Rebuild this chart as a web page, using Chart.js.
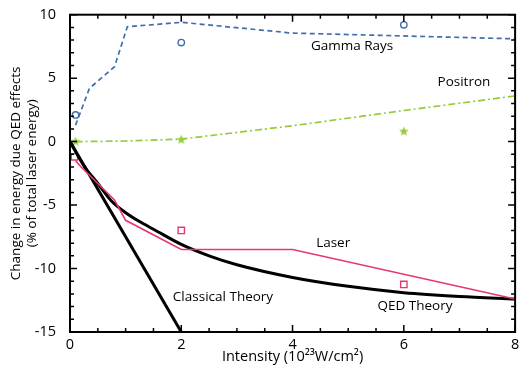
<!DOCTYPE html>
<html>
<head>
<meta charset="utf-8">
<script src="https://cdn.jsdelivr.net/npm/chart.js@4.4.1/dist/chart.umd.min.js"></script>
<style>
  html, body { margin: 0; padding: 0; background: #fff; overflow: hidden; }
  #wrap { width: 521px; height: 372px; }
</style>
</head>
<body>
<div id="wrap"><canvas id="chart" width="521" height="372"></canvas></div>
<script>
// axis ticks
const xTicks = [0, 2, 4, 6, 8];
const yTicks = [-15, -10, -5, 0, 5, 10];

// simulation curves (x = intensity in 10^23 W/cm^2, y = % of laser energy)
const gammaX = [0.1, 0.35, 0.8, 1.03, 2, 4, 8];
const gammaY = [1.3, 4.2, 5.9, 9.05, 9.4, 8.55, 8.1];
const positronX = [0.1, 1, 2, 4, 6, 8];
const positronY = [0, 0.05, 0.2, 1.25, 2.45, 3.6];
const laserX = [0.1, 0.2, 0.8, 1, 2, 4, 8];
const laserY = [-1.5, -2.0, -4.6, -6.2, -8.5, -8.5, -12.4];

// markers
const gammaPtsX = [0.1, 2, 6];
const gammaPtsY = [2.1, 7.8, 9.2];
const positronPtsX = [0.1, 2, 6];
const positronPtsY = [0, 0.15, 0.8];
const laserPtsX = [0.08, 2, 6];
const laserPtsY = [-1.2, -7.0, -11.25];

// theory
const qedX = [0, 0.25, 0.5, 0.75, 1, 1.25, 1.5, 2, 2.5, 3, 4, 5, 6, 7, 8];
const qedY = [0, -1.9, -3.3, -4.7, -5.6, -6.3, -6.9, -8.1, -9.0, -9.7, -10.7, -11.4, -11.9, -12.2, -12.4];
const classicalX = [0, 2];
const classicalY = [0, -15];

// text on the plot
const notes = [
  { text: 'Gamma Rays', x: 5.07, y: 7.5 },
  { text: 'Positron', x: 7.08, y: 4.7 },
  { text: 'Laser', x: 4.73, y: -8.0 },
  { text: 'Classical Theory', x: 2.75, y: -12.25 },
  { text: 'QED Theory', x: 6.2, y: -13.0 }
];

const FONT = "'Open Sans', sans-serif";
const BLUE = '#3f6fab';
const GREEN = '#97ca3c';
const PINK = '#e8386a';

function zip(xs, ys) {
  return xs.map((x, i) => ({ x: x, y: ys[i] }));
}

// filled five point star for the positron markers
function makeStar(r, color) {
  const c = document.createElement('canvas');
  c.width = c.height = r * 2 + 2;
  const g = c.getContext('2d');
  g.fillStyle = color;
  g.beginPath();
  for (let i = 0; i < 10; i++) {
    const rr = i % 2 === 0 ? r : r * 0.45;
    const a = -Math.PI / 2 + i * Math.PI / 5;
    const px = r + 1 + rr * Math.cos(a), py = r + 1 + rr * Math.sin(a);
    if (i === 0) g.moveTo(px, py); else g.lineTo(px, py);
  }
  g.closePath();
  g.fill();
  return c;
}

const framePlugin = {
  id: 'frame',
  afterDatasetsDraw(chart) {
    const { ctx, chartArea: a, scales: { x, y } } = chart;
    ctx.save();
    ctx.strokeStyle = '#000';
    ctx.lineWidth = 1.5;
    ctx.beginPath();
    for (let v = 0; v <= 8; v += 0.5) {
      const px = x.getPixelForValue(v);
      const len = v % 2 === 0 ? 7 : 4;
      ctx.moveTo(px, a.bottom); ctx.lineTo(px, a.bottom - len);
      ctx.moveTo(px, a.top); ctx.lineTo(px, a.top + len);
    }
    for (let v = -15; v <= 10; v += 1) {
      const py = y.getPixelForValue(v);
      const len = v % 5 === 0 ? 7 : 4;
      ctx.moveTo(a.left, py); ctx.lineTo(a.left + len, py);
      ctx.moveTo(a.right, py); ctx.lineTo(a.right - len, py);
    }
    ctx.stroke();
    ctx.lineWidth = 2;
    ctx.strokeRect(a.left, a.top, a.right - a.left, a.bottom - a.top);

    ctx.fillStyle = '#000';
    ctx.font = '13.5px ' + FONT;
    ctx.textAlign = 'center';
    ctx.textBaseline = 'middle';
    notes.forEach(n => ctx.fillText(n.text, x.getPixelForValue(n.x), y.getPixelForValue(n.y)));
    ctx.restore();
  }
};

new Chart(document.getElementById('chart'), {
  type: 'line',
  data: {
    datasets: [
      { data: zip(gammaX, gammaY), borderColor: BLUE, borderWidth: 1.7, borderDash: [5, 3.5], pointRadius: 0 },
      { data: zip(positronX, positronY), borderColor: GREEN, borderWidth: 1.7, borderDash: [7, 3, 2, 3], pointRadius: 0 },
      { data: zip(laserX, laserY), borderColor: PINK, borderWidth: 1.6, pointRadius: 0 },
      { data: zip(qedX, qedY), borderColor: '#000', borderWidth: 3, pointRadius: 0, cubicInterpolationMode: 'monotone' },
      { data: zip(classicalX, classicalY), borderColor: '#000', borderWidth: 3, pointRadius: 0 },
      { data: zip(gammaPtsX, gammaPtsY), showLine: false, pointStyle: 'circle', pointRadius: 3.2,
        pointBorderWidth: 1.4, pointBorderColor: BLUE, pointBackgroundColor: 'rgba(0,0,0,0)' },
      { data: zip(positronPtsX, positronPtsY), showLine: false, pointStyle: makeStar(5, GREEN) },
      { data: zip(laserPtsX, laserPtsY), showLine: false, pointStyle: 'rect', pointRadius: 4.5,
        pointBorderWidth: 1.4, pointBorderColor: PINK, pointBackgroundColor: 'rgba(0,0,0,0)' }
    ]
  },
  options: {
    responsive: false,
    animation: false,
    layout: { padding: { top: 13, right: 4, left: 0, bottom: 0 } },
    plugins: { legend: { display: false }, tooltip: { enabled: false } },
    scales: {
      x: {
        type: 'linear', min: 0, max: 8,
        afterBuildTicks: s => { s.ticks = xTicks.map(v => ({ value: v })); },
        afterFit: s => { s.height = 40; },
        grid: { display: false }, border: { display: false },
        ticks: { color: '#000', padding: -2, font: { family: FONT, size: 14.5, lineHeight: 1 } },
        title: { display: true, text: 'Intensity (10²³W/cm²)', color: '#000', padding: { top: 2, bottom: 6 },
          font: { family: FONT, size: 14.5, lineHeight: 1.2 } }
      },
      y: {
        min: -15, max: 10,
        afterBuildTicks: s => { s.ticks = yTicks.map(v => ({ value: v })); },
        afterFit: s => { s.width = 70; },
        grid: { display: false }, border: { display: false },
        ticks: { color: '#000', padding: 6, font: { family: FONT, size: 14.5 },
          callback: v => String(v) },
        title: { display: true, text: ['Change in energy due QED effects', '(% of total laser energy)'],
          color: '#000', padding: { top: 8, bottom: 0 }, font: { family: FONT, size: 13.5, lineHeight: 1.2 } }
      }
    }
  },
  plugins: [framePlugin]
});
</script>
</body>
</html>
